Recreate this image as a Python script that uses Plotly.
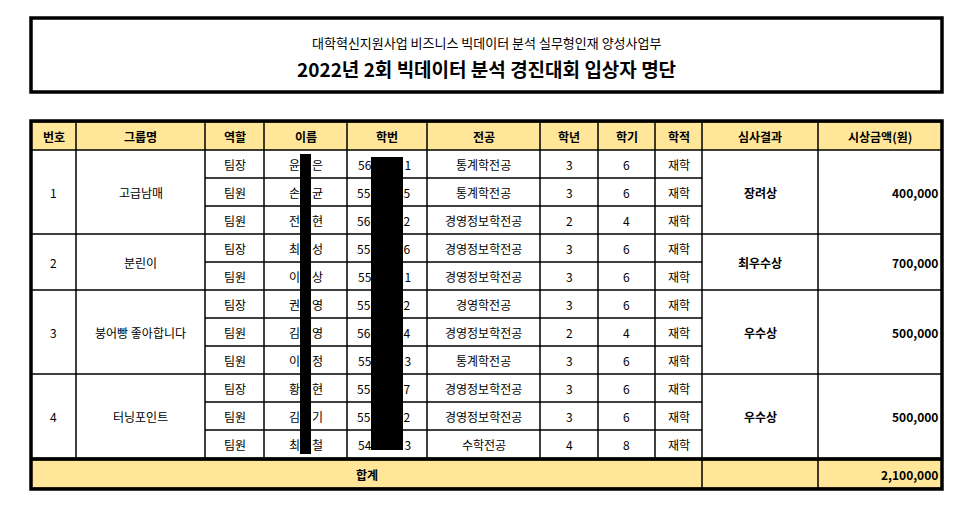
import plotly.graph_objects as go

subtitle = "대학혁신지원사업 비즈니스 빅데이터 분석 실무형인재 양성사업부"
title = "2022년 2회 빅데이터 분석 경진대회 입상자 명단"
headers = ["번호", "그룹명", "역할", "이름", "학번", "전공", "학년", "학기", "학적", "심사결과", "시상금액(원)"]
teams = ["1", "2", "3", "4"]
groups = ["고급남매", "분린이", "붕어빵 좋아합니다", "터닝포인트"]
team_sizes = [3, 2, 3, 3]
awards = ["장려상", "최우수상", "우수상", "우수상"]
prizes = ["400,000", "700,000", "500,000", "500,000"]
roles = ["팀장", "팀원", "팀원", "팀장", "팀원", "팀장", "팀원", "팀원", "팀장", "팀원", "팀원"]
name_first = ["윤", "손", "전", "최", "이", "권", "김", "이", "황", "김", "최"]
name_last = ["은", "균", "현", "성", "상", "영", "영", "정", "현", "기", "철"]
id_head = ["56", "55", "56", "55", "55", "55", "56", "55", "55", "55", "54"]
id_tail = ["1", "5", "2", "6", "1", "2", "4", "3", "7", "2", "3"]
majors = ["통계학전공", "통계학전공", "경영정보학전공", "경영정보학전공", "경영정보학전공", "경영학전공",
          "경영정보학전공", "통계학전공", "경영정보학전공", "경영정보학전공", "수학전공"]
grades = [3, 3, 2, 3, 3, 3, 2, 3, 3, 3, 4]
semesters = [6, 6, 4, 6, 6, 6, 4, 6, 6, 6, 8]
status = ["재학"] * 11
total_label = "합계"
total_prize = "2,100,000"

W, H = 955, 506
OFF = 8  # browser body margin
cols = [31, 76, 205, 264, 347, 427, 540, 598, 655, 702, 818, 942]
top, head_h, row_h = 122, 28, 28
F = "Noto Sans CJK KR, Liberation Sans, sans-serif"
YEL = "#FFE699"

shapes, ann = [], []

def rect(x0, y0, x1, y1, fill=None, lw=1, lc="black", above=False):
    shapes.append(dict(type="rect", xref="x", yref="y", x0=x0, y0=y0, x1=x1, y1=y1,
                       line=dict(color=lc, width=lw), fillcolor=fill if fill else "rgba(0,0,0,0)",
                       layer="below" if (fill and not above) else "above"))

def text(x, y, s, size=12, bold=False, anchor="center"):
    ann.append(dict(x=x, y=y, xref="x", yref="y", text=f"<b>{s}</b>" if bold else s, showarrow=False,
                    xanchor=anchor, yanchor="middle", font=dict(family=F, size=size, color="black")))

def cx(i):
    return (cols[i] + cols[i + 1]) / 2

# title box
rect(31, 18, 942, 92, lw=3.5)
text(486, 42, subtitle, 13)
text(486, 68, title, 19, bold=True)

# header
rect(cols[0], top, cols[-1], top + head_h, fill=YEL, lw=0)
for i, h in enumerate(headers):
    rect(cols[i], top, cols[i + 1], top + head_h)
    text(cx(i), top + head_h / 2, h, 12, bold=True)

r = 0
y = top + head_h
for t in range(len(teams)):
    n = team_sizes[t]
    y0, y1 = y, y + n * row_h
    for i, s in ((0, teams[t]), (1, groups[t])):
        rect(cols[i], y0, cols[i + 1], y1)
        text(cx(i), (y0 + y1) / 2, s, 12)
    rect(cols[9], y0, cols[10], y1)
    text(cx(9), (y0 + y1) / 2, awards[t], 12, bold=True)
    rect(cols[10], y0, cols[11], y1)
    text(cols[11] - 2, (y0 + y1) / 2, prizes[t], 12, bold=True, anchor="right")
    for k in range(n):
        ry0 = y0 + k * row_h
        ym = ry0 + row_h / 2
        for i in range(2, 9):
            rect(cols[i], ry0, cols[i + 1], ry0 + row_h)
        text(cx(2), ym, roles[r])
        text(cx(3), ym, name_first[r] + "\u2003" + name_last[r])
        text(cx(4) - 3, ym, id_head[r] + "\u2007" * 5 + id_tail[r])
        text(cx(5), ym, majors[r])
        text(cx(6), ym, str(grades[r]))
        text(cx(7), ym, str(semesters[r]))
        text(cx(8), ym, status[r])
        r += 1
    y = y1

# total row
ty0, ty1 = y + 2, y + 2 + 28
rect(cols[0], ty0, cols[-1], ty1, fill=YEL, lw=0)
rect(cols[0], ty0, cols[9], ty1)
rect(cols[9], ty0, cols[10], ty1)
rect(cols[10], ty0, cols[11], ty1)
text((cols[0] + cols[9]) / 2, (ty0 + ty1) / 2, total_label, 12, bold=True)
text(cols[11] - 2, (ty0 + ty1) / 2, total_prize, 12, bold=True, anchor="right")
shapes.append(dict(type="line", xref="x", yref="y", x0=cols[0], x1=cols[-1], y0=y + 1, y1=y + 1,
                   line=dict(color="black", width=3.5)))
rect(cols[0], top - 1, cols[-1], ty1 + 1, lw=3.5)

# redaction bars
rect(300, 154, 311, 454, fill="black", lw=0, above=True)
rect(371, 157, 403, 450, fill="black", lw=0, above=True)

fig = go.Figure()
fig.update_layout(width=W - 2 * OFF, height=H - 2 * OFF, margin=dict(l=0, r=0, t=0, b=0),
                  plot_bgcolor="white", paper_bgcolor="white", shapes=shapes, annotations=ann,
                  xaxis=dict(range=[OFF, W - OFF], visible=False, fixedrange=True),
                  yaxis=dict(range=[H - OFF, OFF], visible=False, fixedrange=True), showlegend=False)
fig.write_html("out.html")
